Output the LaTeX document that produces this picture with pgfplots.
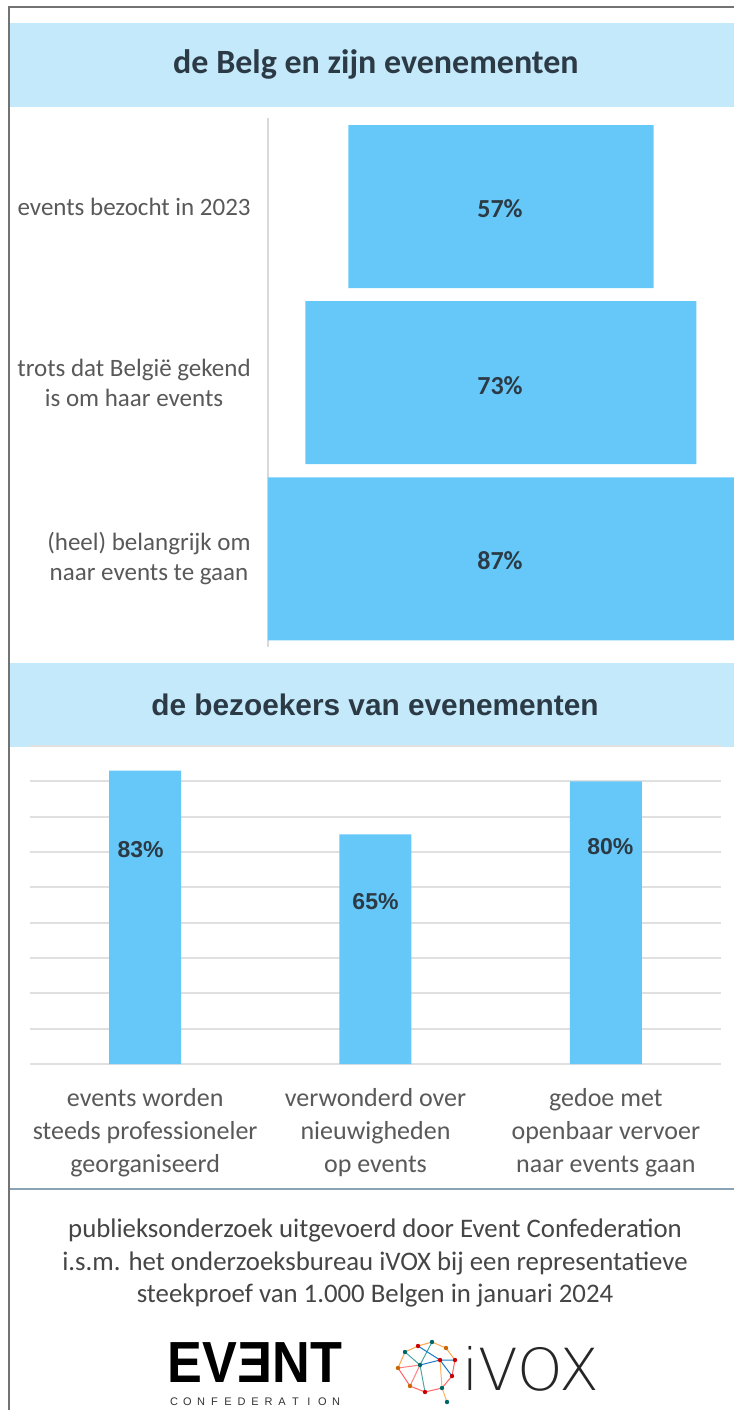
\documentclass[border=0pt]{standalone}
\usepackage{fontspec}
\setmainfont{Carlito}
\newfontfamily\arialf{Liberation Sans}
\newfontfamily\thinf{DejaVu Sans ExtraLight}
\usepackage{pgfplots}
\pgfplotsset{compat=1.18}
\definecolor{band}{HTML}{C4E9FB}
\definecolor{barblue}{HTML}{66C8F9}
\definecolor{titletxt}{HTML}{2C3A45}
\definecolor{labtxt}{HTML}{595959}
\definecolor{foottxt}{HTML}{454545}
\definecolor{sepline}{HTML}{8AA3B5}

\begin{document}
\begin{tikzpicture}
\useasboundingbox (0,0) rectangle (367pt,-705pt);
% decoration in pixel units of the reference
\begin{scope}[x=0.5pt,y=-0.5pt]
  \fill[white] (0,0) rectangle (734,1410);
  \draw[black!55, line width=1pt] (9,1410) -- (9,7) -- (734,7);
  \fill[band] (10,23) rectangle (734,107);
  \fill[band] (10,663) rectangle (734,747);
  \node[font={\bfseries\fontsize{17}{18}\selectfont}, text=titletxt] at (376,64) {de Belg en zijn evenementen};
  \node[font={\arialf\bfseries\fontsize{14.9}{16}\selectfont}, text=titletxt] at (375,705) {de bezoekers van evenementen};
  \draw[sepline, line width=1pt] (10,1189) -- (734,1189);
  \node[font={\fontsize{13.4}{16.4}\selectfont}, text=foottxt, align=center] at (375,1263)
    {publieksonderzoek uitgevoerd door Event Confederation\\
     i.s.m. het onderzoeksbureau iVOX bij een representatieve\\
     steekproef van 1.000 Belgen in januari 2024};
  % logos
  \node[font={\arialf\bfseries\fontsize{29}{30}\selectfont}, inner sep=0pt, anchor=base] at (255,1382)
    {\scalebox{0.9}[1]{EV\reflectbox{E}NT}};
  \foreach \c [count=\i from 0] in {C,O,N,F,E,D,E,R,A,T,I,O,N}
    \node[font={\arialf\fontsize{5.5}{6}\selectfont}, text=black!80, inner sep=0pt] at (174+\i*13.5,1402) {\c};
  \node[font={\thinf\fontsize{29}{30}\selectfont}, inner sep=0pt, anchor=base west, text=black!85] at (462,1390) {iVOX};
  \begin{scope}[line width=0.5pt]
    \draw[orange!70] (398,1368) -- (405,1352) -- (418,1346) -- (432,1342) -- (446,1348) -- (455,1360);
    \draw[red!60] (455,1360) -- (452,1376) -- (442,1388) -- (425,1392) -- (410,1386) -- (398,1368);
    \draw[teal!70] (405,1352) -- (420,1365) -- (432,1342);
    \draw[cyan!60!blue] (420,1365) -- (440,1360) -- (455,1360);
    \draw[teal!70] (420,1365) -- (425,1392);
    \draw[orange!60] (440,1360) -- (442,1388) -- (447,1402);
    \draw[red!50] (410,1386) -- (420,1365) -- (398,1368);
    \draw[cyan!60!blue] (418,1346) -- (440,1360) -- (452,1376);
  \end{scope}
  \foreach \x/\y/\cc in {398/1368/orange, 405/1352/teal, 418/1346/red, 432/1342/teal, 446/1348/orange,
                         455/1360/red, 452/1376/red, 442/1388/teal, 425/1392/red, 410/1386/orange,
                         420/1365/teal, 440/1360/red, 447/1402/teal}
    \fill[\cc!80!black] (\x,\y) circle (2.2);
\end{scope}

% top chart: funnel of three bars (offset + share)
\begin{axis}[
  at={(134pt,-323.5pt)}, anchor=south west,
  scale only axis, width=233pt, height=264.3pt,
  xbar stacked, bar width=81.5pt,
  xmin=0, xmax=87, ymin=-0.5, ymax=2.5, y dir=reverse,
  axis x line=none, axis y line=left,
  y axis line style={-, draw=black!15, line width=1pt},
  ytick={0,1,2}, ytick style={draw=none},
  yticklabels={events bezocht in 2023,
               {trots dat België gekend\\is om haar events},
               {(heel) belangrijk om\\naar events te gaan}},
  yticklabel style={align=center, text=labtxt, font={\fontsize{12.5}{15}\selectfont}, xshift=-3pt},
  clip=false,
]
\addplot[draw=none, fill=none] coordinates {(15,0) (7,1) (0,2)};
\addplot[draw=none, fill=barblue] coordinates {(57,0) (73,1) (87,2)};
\end{axis}

% bottom chart
\begin{axis}[
  at={(15pt,-532pt)}, anchor=south west,
  scale only axis, width=345.5pt, height=159pt,
  ybar, bar width=36pt,
  xmin=-0.5, xmax=2.5, ymin=0, ymax=90,
  ytick={0,10,...,90}, yticklabels={}, ytick style={draw=none},
  ymajorgrids, grid style={draw=black!12, line width=1pt},
  axis line style={draw=none},
  xtick={0,1,2}, xtick style={draw=none},
  xticklabels={{events worden\\steeds professioneler\\georganiseerd},
               {verwonderd over\\nieuwigheden\\op events},
               {gedoe met\\openbaar vervoer\\naar events gaan}},
  xticklabel style={align=center, text=labtxt, font={\fontsize{13}{16.5}\selectfont}, yshift=-4.5pt},
  clip=false,
]
\addplot[draw=none, fill=barblue] coordinates {(0,83) (1,65) (2,80)};
\node[font={\arialf\bfseries\fontsize{11.5}{13}\selectfont}, text=titletxt] at (axis cs:-0.02,60.6) {83\%};
\node[font={\arialf\bfseries\fontsize{11.5}{13}\selectfont}, text=titletxt] at (axis cs:1,45.9) {65\%};
\node[font={\arialf\bfseries\fontsize{11.5}{13}\selectfont}, text=titletxt] at (axis cs:2.02,61.5) {80\%};
\end{axis}

% value labels of the funnel bars
\begin{scope}[x=0.5pt,y=-0.5pt]
  \foreach \v/\y in {57/209, 73/386, 87/561}
    \node[font={\bfseries\fontsize{13}{15}\selectfont}, text=titletxt] at (500,\y) {\v\%};
\end{scope}
\end{tikzpicture}
\end{document}
